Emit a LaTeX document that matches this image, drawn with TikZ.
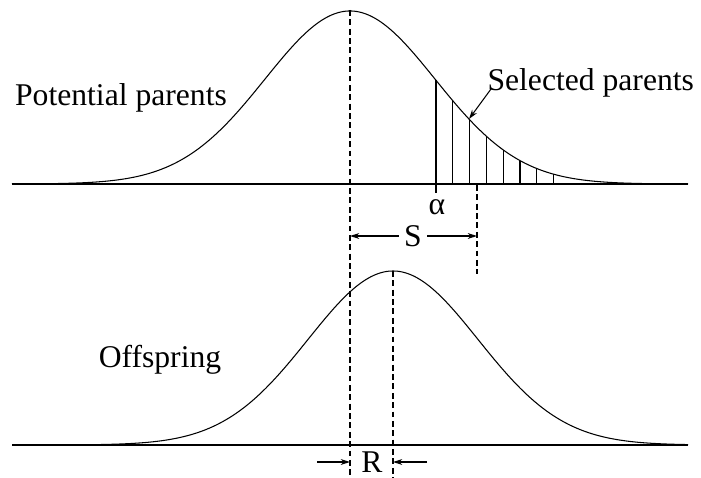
\documentclass[tikz,border=0pt]{standalone}
\usepackage{fontspec}
\setmainfont{Liberation Serif}
\newfontfamily\figserif{Liberation Serif}
\usetikzlibrary{arrows.meta}
\tikzset{
  lbl/.style={inner sep=0pt, font=\figserif\fontsize{27}{30}\selectfont},
  dashln/.style={dash pattern=on 5pt off 3pt},
  arr/.style={-{Stealth[length=8pt,width=5pt]}},
}

\begin{document}
\begin{tikzpicture}[x=0.03cm, y=-0.03cm, line width=0.9pt]
        \useasboundingbox (0,0) rectangle (701,478);
        \draw (12,184) -- (688,184);
        \draw (12,445) -- (688,445);
        \draw[domain=12:688, samples=150, smooth] plot (\x, {184-173*exp(-0.5*((\x-350)/85)^2)});
        \draw[domain=12:688, samples=150, smooth] plot (\x, {445-174*exp(-0.5*((\x-393)/85)^2)});
        \foreach \i in {0,...,7} {
          \pgfmathsetmacro{\hx}{436+16.8*\i}
          \draw (\hx,184) -- (\hx, {184-173*exp(-0.5*((\hx-350)/85)^2)});
        }
        \draw (436,184) -- (436,193);
        \node[lbl] (pot) at (121,98) {Potential parents};
        \node[lbl, anchor=west] (sel) at (487,83) {Selected parents};
        \node[lbl] (off) at (160,360) {Offspring};
        \node[lbl] (alpha) at (437,207) {α};
        \node[lbl] (S) at (413,236) {S};
        \node[lbl] (R) at (372,462) {R};
        \coordinate (tip) at (469,119);
        \coordinate (start) at (491,89);
        \coordinate (sl) at (350,236);
        \coordinate (sr) at (477,236);
        \coordinate (rl) at (317,462);
        \coordinate (rla) at (350,462);
        \coordinate (rr) at (427,462);
        \coordinate (rra) at (393,462);
        \draw[dashln] (350,10) -- (350,478);
        \draw[dashln] (393,271) -- (393,478);
        \draw[dashln] (477,185) -- (477,274);
        \draw[arr] (start) -- (tip);
        \draw[arr] ([xshift=-4pt]S.west) -- (sl);
        \draw[arr] ([xshift=4pt]S.east) -- (sr);
        \draw[arr] (rl) -- (rla);
        \draw[arr] (rr) -- (rra);
      \end{tikzpicture}
\end{document}
